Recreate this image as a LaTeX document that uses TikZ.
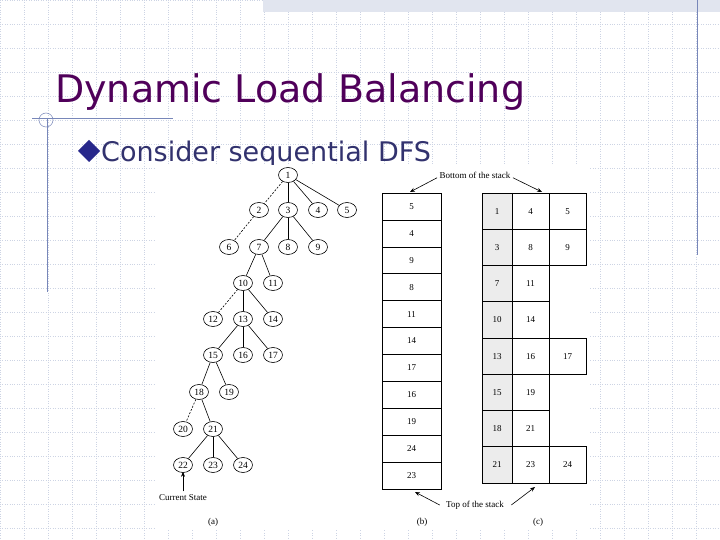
\documentclass[tikz,border=0pt]{standalone}
\usepackage{fontspec}
\setmainfont{Liberation Serif}
\newfontfamily\slidefont{DejaVu Sans}
\usetikzlibrary{shapes.geometric,arrows.meta}
\definecolor{gridc}{RGB}{205,212,228}
\definecolor{titlec}{RGB}{80,0,90}
\definecolor{bodyc}{RGB}{50,50,110}
\definecolor{linec}{RGB}{120,135,185}
\definecolor{cellgray}{RGB}{236,236,236}
\tikzset{
  tn/.style={draw,ellipse,inner sep=0pt,minimum width=19pt,minimum height=15pt,font=\fontsize{9.5}{9.5}\selectfont,line width=0.6pt},
  ed/.style={line width=0.6pt},
  ded/.style={line width=0.6pt,dash pattern=on 2pt off 1.5pt},
  lab/.style={font=\fontsize{9}{9}\selectfont},
  cell/.style={draw,line width=0.6pt,minimum width=59pt,minimum height=26.9pt,inner sep=0pt,font=\fontsize{9}{9}\selectfont},
  cn/.style={font=\fontsize{9}{9}\selectfont},
  ar/.style={-{Stealth[length=5pt,width=4pt]},line width=0.6pt}
}
\begin{document}
\begin{tikzpicture}[x=1pt,y=-1pt]
\useasboundingbox (0,0) rectangle (720,540);
\fill[white] (0,0) rectangle (720,540);
% grid
\foreach \x in {0,24,...,720} \draw[gridc,line width=0.4pt,dotted] (\x,0) -- (\x,540);
\foreach \y in {0,24,...,540} \draw[gridc,line width=0.4pt,dotted] (0,\y) -- (720,\y);
% top band
\fill[gridc!60] (263,0) rectangle (720,12);
\draw[linec,line width=0.6pt] (697,0) -- (697,255);
\draw[linec,line width=0.6pt] (32,118) -- (173,118);
\draw[linec,line width=0.8pt] (47,118) -- (47,292);
\draw[linec,line width=0.5pt] (46,120) circle[radius=7];
% title
\node[anchor=base west,inner sep=0,text=titlec,font=\slidefont\fontsize{38}{38}\selectfont] (title) at (55,103) {Dynamic Load Balancing};
\node[anchor=base west,inner sep=0,text=bodyc,font=\slidefont\fontsize{27}{27}\selectfont] (bul) at (101,162) {Consider sequential DFS};
\fill[bodyc!80!blue] (78,151) -- (89,140) -- (100,151) -- (89,162) -- cycle;
% figure white
\fill[white] (155,165) rectangle (590,530);
% tree
\node[tn] (n1) at (288,175) {1};
\node[tn] (n2) at (259,210) {2};
\node[tn] (n3) at (288,210) {3};
\node[tn] (n4) at (318,210) {4};
\node[tn] (n5) at (347,210) {5};
\node[tn] (n6) at (229,247) {6};
\node[tn] (n7) at (259,247) {7};
\node[tn] (n8) at (288,247) {8};
\node[tn] (n9) at (318,247) {9};
\node[tn] (n10) at (243,283) {10};
\node[tn] (n11) at (273,283) {11};
\node[tn] (n12) at (213,319) {12};
\node[tn] (n13) at (243,319) {13};
\node[tn] (n14) at (273,319) {14};
\node[tn] (n15) at (213,355) {15};
\node[tn] (n16) at (243,355) {16};
\node[tn] (n17) at (273,355) {17};
\node[tn] (n18) at (199,392) {18};
\node[tn] (n19) at (229,392) {19};
\node[tn] (n20) at (183,429) {20};
\node[tn] (n21) at (213,429) {21};
\node[tn] (n22) at (183,465) {22};
\node[tn] (n23) at (213,465) {23};
\node[tn] (n24) at (243,465) {24};
\draw[ded] (n1) -- (n2);
\draw[ed] (n1) -- (n3); \draw[ed] (n1) -- (n4); \draw[ed] (n1) -- (n5);
\draw[ded] (n2) -- (n6);
\draw[ed] (n3) -- (n7); \draw[ed] (n3) -- (n8); \draw[ed] (n3) -- (n9);
\draw[ed] (n7) -- (n10); \draw[ed] (n7) -- (n11);
\draw[ded] (n10) -- (n12);
\draw[ed] (n10) -- (n13); \draw[ed] (n10) -- (n14);
\draw[ed] (n13) -- (n15); \draw[ed] (n13) -- (n16); \draw[ed] (n13) -- (n17);
\draw[ed] (n15) -- (n18); \draw[ed] (n15) -- (n19);
\draw[ded] (n18) -- (n20);
\draw[ed] (n18) -- (n21);
\draw[ed] (n21) -- (n22); \draw[ed] (n21) -- (n23); \draw[ed] (n21) -- (n24);
\node[lab] (cs) at (183,498) {Current State};
\draw[ar] (cs.north) -- ([yshift=1pt]n22.south);
\node[lab] (la) at (213,522) {(a)};
\node[lab] (lb) at (422,522) {(b)};
\node[lab] (lc) at (538,522) {(c)};
% stack b
\foreach \v [count=\i from 0] in {5,4,9,8,11,14,17,16,19,24,23}
  \node[cell] (b\i) at (411.5,{193+26.9*\i+13.45}) {\v};
% stack c
\fill[cellgray] (482,193) rectangle (512,483);
\foreach \a/\b [count=\i from 0] in {1/4,3/8,7/11,10/14,13/16,15/19,18/21,21/23}{
  \node[cn] (ca\i) at (497,{193+36.25*\i+18.1}) {\a};
  \node[cn] (cb\i) at (530.5,{193+36.25*\i+18.1}) {\b};
  \draw[line width=0.6pt] (482,{193+36.25*\i}) rectangle (549,{193+36.25*(\i+1)});
  \draw[line width=0.6pt] (512,{193+36.25*\i}) -- (512,{193+36.25*(\i+1)});
}
\foreach \c/\i in {5/0,9/1,17/4,24/7}{
  \node[cn] (cc\i) at (567.5,{193+36.25*\i+18.1}) {\c};
  \draw[line width=0.6pt] (549,{193+36.25*\i}) rectangle (586,{193+36.25*(\i+1)});
}
\node[lab] (bot) at (475,175) {Bottom of the stack};
\coordinate (bl) at (410,192); \coordinate (br) at (542,192);
\draw[ar] ([xshift=1pt,yshift=4pt]bot.south west) -- (bl);
\draw[ar] ([xshift=-1pt,yshift=4pt]bot.south east) -- (br);
\node[lab] (top) at (475,505) {Top of the stack};
\coordinate (tl) at (415,492); \coordinate (tr) at (535,487);
\draw[ar] ([xshift=-3pt]top.west) -- (tl);
\draw[ar] ([xshift=4pt]top.east) -- (tr);
\end{tikzpicture}
\end{document}
